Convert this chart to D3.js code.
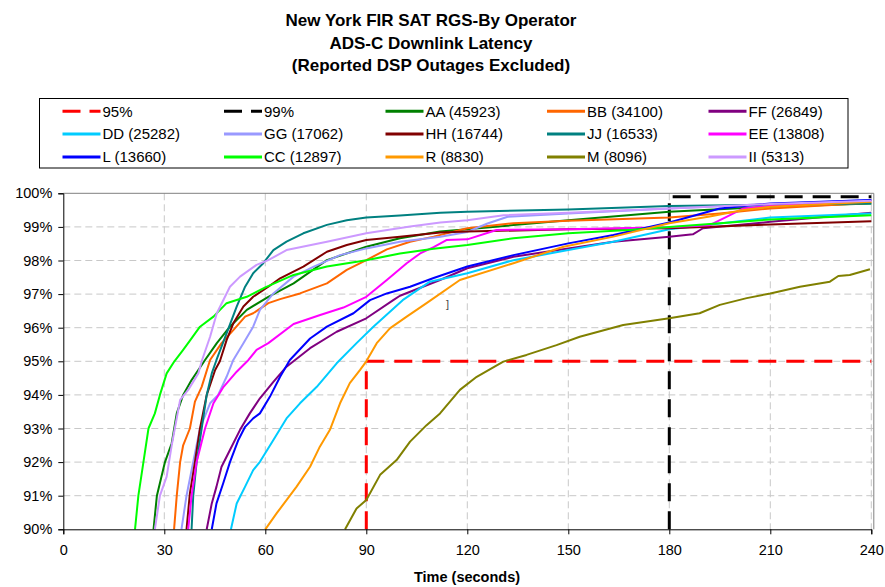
<!DOCTYPE html>
<html><head><meta charset="utf-8">
<script src="https://cdn.jsdelivr.net/npm/d3@7"></script>
<style>body{margin:0;background:#fff}svg{display:block;font-family:"Liberation Sans",Arial,sans-serif}</style>
</head><body><svg id="c" width="885" height="587"></svg>
<script>
const titleLines = ["New York FIR SAT RGS-By Operator","ADS-C Downlink Latency","(Reported DSP Outages Excluded)"];
const xTicks = [0,30,60,90,120,150,180,210,240];
const yTicks = [90,91,92,93,94,95,96,97,98,99,100];
const xLabel = "Time (seconds)";

// reference lines [time, percent]
const ref95 = [[90,90],[90,95],[240,95]];
const ref99 = [[180,90],[180,99.9],[240,99.9]];

// series [time (s), cumulative %]
const AA = [[26.8,90],[27.8,91],[30.2,92],[32.2,92.56],[33.7,93.45],[35.6,94],[38.1,94.44],[42.1,95.04],[45.6,95.54],[49.5,96.03],[54.5,96.53],[60.9,96.92],[68.4,97.32],[78.3,98.01],[90,98.41],[100,98.66],[111.9,98.86],[120,98.93],[150,99.2],[180,99.45],[210,99.6],[240,99.7]];
const BB = [[32.9,90],[33.7,91],[34.7,92],[35.6,92.5],[37.6,93],[39.1,93.8],[41.1,94.24],[43.6,95.04],[47,95.54],[50.5,95.93],[54,96.33],[56.4,96.43],[60.9,96.73],[64.4,96.85],[70.3,97.02],[78.3,97.32],[84.2,97.72],[90,98.01],[96.1,98.33],[103,98.56],[110,98.71],[120,98.96],[133.7,99.11],[150,99.18],[180,99.28],[195,99.4],[210,99.55],[240,99.72]];
const FF = [[42.6,90],[44.1,90.77],[45.5,91.27],[47,91.86],[49.5,92.36],[52.5,92.96],[55.4,93.45],[58.4,93.9],[62.4,94.39],[66.3,94.84],[73.3,95.39],[81.2,95.88],[90,96.28],[98,96.82],[100,96.95],[111.9,97.42],[120,97.77],[133.7,98.11],[150,98.36],[163.4,98.56],[180,98.71],[187,98.78],[190,98.96],[210,99.15],[240,99.42]];
const DD = [[49.8,90],[51.5,90.77],[54,91.27],[56.4,91.76],[58.4,92.01],[62.4,92.66],[66.3,93.3],[70.3,93.75],[75.3,94.24],[81.2,94.94],[87.1,95.54],[92.1,96.03],[100.8,96.82],[108.9,97.37],[120,97.62],[133.7,98.01],[150,98.31],[163.4,98.56],[180,98.93],[195,99.1],[210,99.28],[240,99.4]];
const GG = [[35.1,90],[36.6,91],[38.1,91.76],[40.6,93],[43.6,93.75],[46,94],[48.5,94.54],[50.5,95.04],[53.5,95.54],[56.4,96.03],[58.4,96.53],[62.4,97.02],[68.4,97.52],[74.4,97.82],[82.2,98.16],[90,98.36],[100,98.56],[112,98.71],[120,98.85],[126,99.1],[132,99.3],[150,99.4],[180,99.55],[210,99.68],[240,99.8]];
const HH = [[36.6,90],[37.6,91.07],[39.1,92],[40.6,93],[42.6,94],[45.1,94.74],[46.5,95.0],[48.5,95.63],[50.5,96.13],[53.5,96.63],[56.4,96.92],[60.9,97.22],[64.4,97.47],[71.3,97.82],[78.3,98.26],[84.2,98.46],[90,98.61],[100,98.71],[112,98.83],[120,98.86],[150,98.93],[180,98.96],[210,99.07],[240,99.17]];
const JJ = [[38.1,90],[38.6,91],[39.6,92],[41.1,93],[42.6,94],[44.1,94.64],[45.5,95.04],[48.5,95.83],[51.5,96.63],[54,97.22],[56.4,97.62],[59.4,97.92],[62.4,98.31],[66.3,98.56],[71.3,98.81],[78.3,99.06],[84.2,99.2],[90,99.28],[100,99.34],[112,99.42],[120,99.45],[150,99.52],[180,99.62],[210,99.66],[240,99.7]];
const EE = [[37.1,90],[38.1,91],[39.6,92],[42.1,93],[44.6,93.75],[47.6,94.24],[51.5,94.69],[55,95.04],[57.4,95.34],[60.9,95.54],[68.4,96.11],[76.3,96.38],[83.2,96.6],[90,96.92],[96.1,97.42],[102,97.92],[106,98.21],[110,98.4],[113.8,98.61],[120,98.63],[128.7,98.91],[150,98.93],[180,98.99],[192,99.05],[197,99.3],[202,99.55],[210,99.62],[240,99.78]];
const L = [[44.1,90],[45.5,90.77],[47.5,91.37],[49.5,92],[52,92.66],[54,93.05],[56.4,93.3],[58.4,93.45],[61.4,93.95],[64.4,94.54],[67.3,95.04],[73.3,95.68],[78.3,96.03],[86.2,96.43],[91.1,96.82],[96.1,97.02],[103,97.22],[110,97.48],[120,97.82],[133.7,98.16],[150,98.51],[163.4,98.76],[180,99.13],[195,99.55],[210,99.7],[240,99.8]];
const CC = [[21.3,90],[22.3,91],[23.8,92],[25.3,93],[27.2,93.45],[28.7,94],[30.7,94.64],[33,95],[35.6,95.34],[37.5,95.6],[40.6,96.03],[44.6,96.33],[48.5,96.73],[54.5,96.92],[60,97.2],[68.4,97.57],[78.3,97.82],[90,98.01],[100,98.21],[110,98.35],[120,98.46],[133.7,98.66],[150,98.81],[168,98.91],[180,99.0],[210,99.22],[240,99.35]];
const R = [[60,90],[63.4,90.48],[66.3,90.87],[69.3,91.27],[73.3,91.86],[76.2,92.46],[79.2,92.96],[82.2,93.75],[85.1,94.35],[88.1,94.74],[90,95],[93.1,95.54],[97,95.98],[102,96.33],[107.9,96.73],[117.8,97.42],[133.7,97.92],[148.6,98.41],[163.4,98.71],[180,99.11],[192,99.31],[202,99.5],[210,99.6],[240,99.75]];
const M = [[83.7,90],[87.1,90.62],[90,90.87],[94.1,91.62],[99,92.06],[103,92.61],[107.9,93.1],[111.9,93.45],[117.8,94.15],[122.8,94.54],[130.7,94.99],[137.6,95.19],[146.5,95.48],[153.4,95.73],[166.3,96.08],[180,96.28],[189,96.43],[195,96.68],[203,96.88],[210,97.02],[218.8,97.22],[227.7,97.37],[230.2,97.54],[233.6,97.57],[239.6,97.74]];
const II = [[27.2,90],[28.7,91],[30.7,91.57],[32.2,92.5],[34.7,93.85],[37.1,94.15],[40.1,94.64],[41.1,95],[43.6,95.73],[45.6,96.43],[49.5,97.22],[52.5,97.52],[57.4,97.87],[60.9,98.01],[66.3,98.31],[78.3,98.56],[90,98.81],[103,99.01],[112,99.13],[120,99.2],[130.8,99.35],[150,99.42],[180,99.55],[210,99.68],[240,99.78]];

const seriesNames = ["AA (45923)","BB (34100)","FF (26849)","DD (25282)","GG (17062)","HH (16744)","JJ (16533)","EE (13808)","L (13660)","CC (12897)","R (8830)","M (8096)","II (5313)"];
const seriesData = [AA,BB,FF,DD,GG,HH,JJ,EE,L,CC,R,M,II];
const seriesColors = ["#008000","#FF6600","#800080","#00CCFF","#9999FF","#800000","#008080","#FF00FF","#0000FF","#00FF00","#FF9900","#808000","#CC99FF"];

const svg = d3.select("#c");
const x = d3.scaleLinear().domain([0,240]).range([63.3,871.3]);
const y = d3.scaleLinear().domain([90,100]).range([529.3,193.3]);

// title
svg.append("g").selectAll("text").data(titleLines).join("text")
  .attr("x",431).attr("y",(d,i)=>26+i*22.5).attr("text-anchor","middle")
  .attr("font-size",17).attr("font-weight","bold").text(d=>d);

// gridlines
const grid = svg.append("g").attr("stroke","#c8c8c8").attr("stroke-dasharray","7,4").attr("stroke-width",1);
grid.selectAll("line.h").data(yTicks.filter(d=>d>90 && d<100)).join("line")
  .attr("x1",x(0)).attr("x2",x(240)+2).attr("y1",d=>y(d)).attr("y2",d=>y(d));
grid.selectAll("line.v").data(xTicks.filter(d=>d>0)).join("line")
  .attr("y1",y(100)).attr("y2",y(90)).attr("x1",d=>x(d)).attr("x2",d=>x(d));

// plot border (top/right)
svg.append("path").attr("fill","none").attr("stroke","#808080").attr("stroke-width",1)
  .attr("d",`M${x(0)},${y(100)}H${x(240)+2.5}V${y(90)}`);

const line = d3.line().x(d=>x(d[0])).y(d=>y(d[1]));

// reference lines
svg.append("path").datum(ref95).attr("d",line).attr("fill","none").attr("stroke","#FF0000").attr("stroke-width",3).attr("stroke-dasharray","18,10");
svg.append("path").datum(ref99).attr("d",line).attr("fill","none").attr("stroke","#000000").attr("stroke-width",3).attr("stroke-dasharray","18,10");

// series
svg.append("g").selectAll("path").data(seriesData).join("path")
  .attr("d",line).attr("fill","none").attr("stroke",(d,i)=>seriesColors[i])
  .attr("stroke-width",2).attr("stroke-linejoin","round");

// axes
const yAxis = d3.axisLeft(y).tickValues(yTicks).tickFormat(d=>d+"%").tickSize(5).tickPadding(6);
const gy = svg.append("g").attr("transform",`translate(${x(0)},0)`).call(yAxis);
gy.select(".domain").attr("stroke","#000");
gy.selectAll("text").attr("font-size",14.5).attr("font-family","Liberation Sans, Arial").attr("fill","#000");
const xAxis = d3.axisBottom(x).tickValues(xTicks).tickSize(5).tickPadding(10);
const gx = svg.append("g").attr("transform",`translate(0,${y(90)})`).call(xAxis);
gx.select(".domain").attr("stroke","#000");
gx.selectAll("text").attr("font-size",14.5).attr("font-family","Liberation Sans, Arial").attr("fill","#000");

svg.append("text").attr("x",467).attr("y",582).attr("text-anchor","middle")
  .attr("font-size",14.5).attr("font-weight","bold").text(xLabel);

// stray mark in original
svg.append("text").attr("x",446).attr("y",308).attr("font-size",11).attr("fill","#444").text("]");

// legend
svg.append("rect").attr("x",39.5).attr("y",98.5).attr("width",808.5).attr("height",69.5).attr("fill","#fff").attr("stroke","#000").attr("stroke-width",1);
const legItems = [{n:"95%",c:"#FF0000",dash:true},{n:"99%",c:"#000000",dash:true}]
  .concat(seriesNames.map((n,i)=>({n:n,c:seriesColors[i],dash:false})));
const lg = svg.append("g").selectAll("g").data(legItems).join("g")
  .attr("transform",(d,i)=>`translate(${62.5+(i%5)*161.5},${111.3+Math.floor(i/5)*22.8})`);
lg.append("line").attr("x1",0).attr("x2",38).attr("y1",0).attr("y2",0)
  .attr("stroke",d=>d.c).attr("stroke-width",3)
  .attr("stroke-dasharray",d=>d.dash?"18,9":null);
lg.append("text").attr("x",40).attr("y",5.2).attr("font-size",15).text(d=>d.n);
</script></body></html>
